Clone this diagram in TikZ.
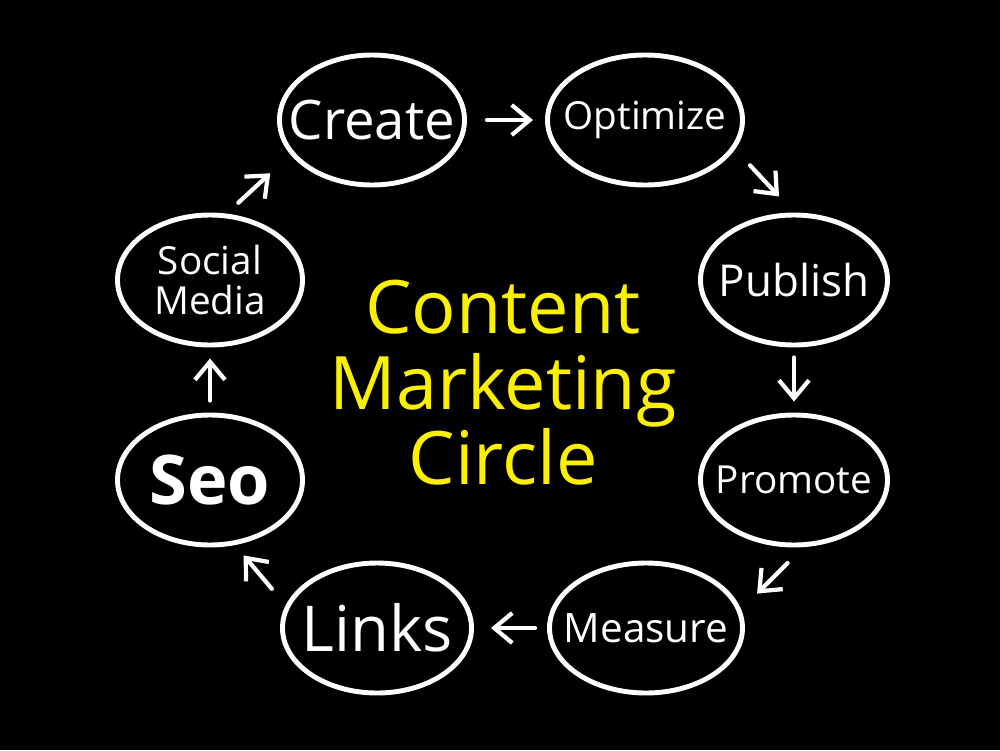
\documentclass[tikz,border=0pt]{standalone}
\usepackage{fontspec}
\setmainfont{Open Sans}
\usetikzlibrary{shapes.geometric,arrows.meta}
\definecolor{chalkyellow}{RGB}{250,240,0}

\begin{document}
\begin{tikzpicture}[
  x=0.2mm, y=-0.2mm,
  stage/.style={
    ellipse, draw=white, line width=2.8pt,
    minimum width=37mm, minimum height=26mm,
    inner sep=0pt
  },
  stagetext/.style={
    text=white, align=center,
    font=\fontsize{23}{23}\selectfont
  },
  arrow/.style={
    -{Straight Barb[length=3.6mm, width=6mm]},
    draw=white, line width=2.4pt, line cap=round
  }
]

% =====================================================
% BOARD
% =====================================================

\fill[black] (0,0) rectangle (1000,750);

\node[font=\fontsize{42}{43}\selectfont, text=chalkyellow, align=center]
  (title) at (503,383) {Content\\Marketing\\Circle};

% =====================================================
% TOP ROW
% =====================================================

\node[stage, label={[stagetext, font=\fontsize{31}{31}\selectfont]center:Create}]
  (create) at (372,120) {};
\node[stage, minimum width=39mm, label={[stagetext, font=\fontsize{22}{22}\selectfont]center:Optimize}]
  (optimize) at (645,120) {};

\draw[arrow, shorten <=4mm, shorten >=2.4mm] (create.east) -- (optimize.west);

% =====================================================
% RIGHT SIDE
% =====================================================

\node[stage, minimum width=37.4mm, label={[stagetext, font=\fontsize{25}{25}\selectfont]center:Publish}]
  (publish) at (794,280) {};
\node[stage, minimum width=37.4mm, label={[stagetext, font=\fontsize{22}{22}\selectfont]center:Promote}]
  (promote) at (794,480) {};

\draw[arrow, shorten <=4.4mm, shorten >=4.4mm] (optimize.-18) -- (publish.north);
\draw[arrow, shorten <=2mm, shorten >=2.2mm] (publish.south) -- (promote.north);

% =====================================================
% BOTTOM ROW
% =====================================================

\node[stage, minimum width=38.6mm, label={[stagetext]center:Measure}]
  (measure) at (646,628) {};
\node[stage, minimum width=37.8mm, label={[stagetext, font=\fontsize{36}{36}\selectfont]center:Links}]
  (links) at (377,628) {};

\draw[arrow, shorten <=4.5mm, shorten >=4.5mm] (promote.-82) -- (measure.11);
\draw[arrow, shorten <=2.4mm, shorten >=3.4mm] (measure.west) -- (links.east);

% =====================================================
% LEFT SIDE
% =====================================================

\node[stage, label={[stagetext, font=\bfseries\fontsize{39}{39}\selectfont]center:Seo}]
  (seo) at (210,480) {};
\node[stage, label={[stagetext, font=\fontsize{22}{23}\selectfont]center:Social\\Media}]
  (social) at (210,280) {};

\draw[arrow, shorten <=4.3mm, shorten >=2.7mm] (links.166) -- (seo.-69);
\draw[arrow, shorten <=2.4mm, shorten >=2.2mm] (seo.north) -- (social.south);
\draw[arrow, shorten <=3.2mm, shorten >=5.5mm] (social.76) -- (create.-157);

\end{tikzpicture}
\end{document}
